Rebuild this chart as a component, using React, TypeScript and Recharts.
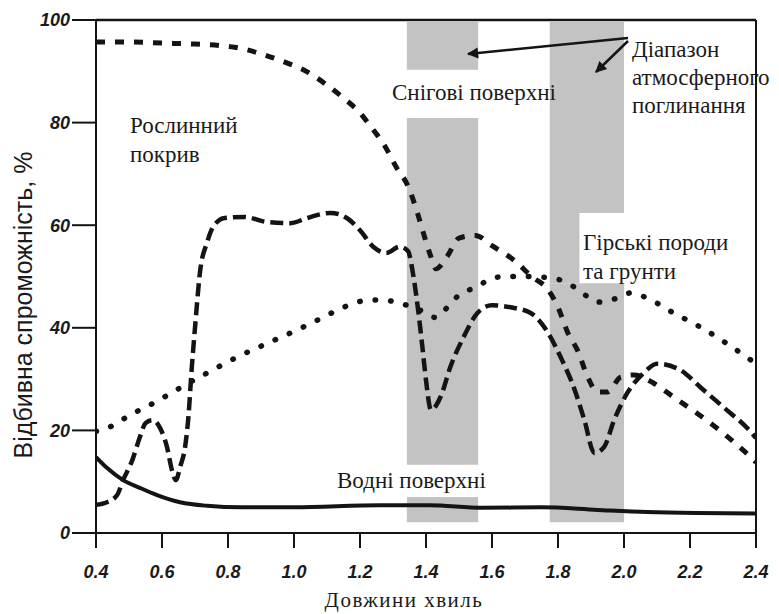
import { LineChart, Line, XAxis, YAxis, ReferenceArea, ReferenceLine } from 'recharts';

// осі
const xTicks = [0.4, 0.6, 0.8, 1.0, 1.2, 1.4, 1.6, 1.8, 2.0, 2.2, 2.4];
const xTickLabels = ['0.4', '0.6', '0.8', '1.0', '1.2', '1.4', '1.6', '1.8', '2.0', '2.2', '2.4'];
const yTicks = [0, 20, 40, 60, 80, 100];
const yTickLabels = ['0', '20', '40', '60', '80', '100'];

// сніг
const snowWl = [0.4, 0.5, 0.6, 0.7, 0.82, 0.91, 0.98, 1.04, 1.1, 1.15, 1.2, 1.24, 1.27, 1.31, 1.347, 1.374, 1.392, 1.414, 1.43, 1.465, 1.5, 1.55, 1.6, 1.67, 1.72, 1.77, 1.8, 1.83, 1.86, 1.89, 1.92, 1.95, 1.99, 2.03, 2.09, 2.15, 2.22, 2.3, 2.36, 2.4];
const snowVal = [95.7, 95.7, 95.5, 95.3, 94.7, 93.2, 91.6, 89.9, 87.3, 84.8, 81.9, 78.6, 76, 71.3, 67.4, 62.4, 58.5, 54, 51.5, 54, 57.5, 58, 56, 53, 50, 47.4, 44, 39, 35.5, 30.4, 27.5, 27.5, 30.4, 30.8, 29.2, 26.5, 23.4, 19.5, 16.2, 13.8];

// рослинність
const vegWl = [0.4, 0.433, 0.464, 0.482, 0.51, 0.533, 0.55, 0.57, 0.594, 0.615, 0.63, 0.642, 0.655, 0.67, 0.68, 0.69, 0.7, 0.716, 0.736, 0.755, 0.79, 0.85, 0.92, 0.99, 1.04, 1.11, 1.16, 1.2, 1.24, 1.28, 1.32, 1.345, 1.362, 1.377, 1.389, 1.4, 1.415, 1.444, 1.474, 1.514, 1.556, 1.6, 1.656, 1.717, 1.77, 1.81, 1.85, 1.88, 1.91, 1.94, 1.97, 2.01, 2.06, 2.1, 2.17, 2.23, 2.3, 2.38, 2.4];
const vegVal = [5.5, 6, 7.4, 10.3, 14.2, 18.7, 21.4, 22, 20.5, 16.8, 12.3, 10.3, 12.9, 16.8, 22.6, 32, 40, 51.3, 56.5, 59.7, 61.4, 61.6, 60.6, 60.4, 61.4, 62.4, 61.4, 59, 55.8, 54.6, 55.8, 55, 50, 43, 36.3, 29.8, 24, 26.5, 32.4, 38.2, 42.9, 44.4, 44, 42.9, 39, 34, 28, 22, 15.6, 16.8, 22, 27.3, 31.2, 33, 31.8, 28.5, 24.6, 20, 18.5];

// гірські породи та ґрунти
const soilWl = [0.4, 0.443, 0.488, 0.533, 0.58, 0.618, 0.66, 0.737, 0.828, 0.92, 1.01, 1.09, 1.15, 1.23, 1.27, 1.32, 1.38, 1.43, 1.47, 1.5, 1.556, 1.6, 1.65, 1.7, 1.78, 1.83, 1.87, 1.92, 1.98, 2.02, 2.07, 2.15, 2.23, 2.31, 2.4];
const soilVal = [19.8, 20.7, 22.4, 24, 25.5, 26.9, 28.5, 31.2, 34.3, 37, 39.6, 42.1, 44, 45.4, 45.4, 44.8, 43.5, 42, 44.4, 46.4, 48, 49.7, 50, 50, 49.7, 48.7, 47, 45, 45.8, 46.8, 45.8, 42.9, 40.2, 37, 33];

// водні поверхні
const waterWl = [0.4, 0.433, 0.482, 0.533, 0.585, 0.655, 0.737, 0.84, 1.0, 1.26, 1.41, 1.57, 1.75, 1.92, 2.07, 2.22, 2.4];
const waterVal = [14.8, 12.7, 10.3, 8.8, 7.4, 6, 5.3, 5, 5, 5.4, 5.4, 4.9, 5, 4.5, 4.1, 3.9, 3.8];

// діапазони атмосферного поглинання (частини смуг)
const absorptionBands = [
  { x1: 1.342, x2: 1.558, y1: 90.3, y2: 99.6 },
  { x1: 1.342, x2: 1.558, y1: 13.3, y2: 80.9 },
  { x1: 1.342, x2: 1.558, y1: 2.1, y2: 7.0 },
  { x1: 1.775, x2: 2.0, y1: 62.4, y2: 99.6 },
  { x1: 1.775, x2: 1.865, y1: 48.7, y2: 62.4 },
  { x1: 1.775, x2: 2.0, y1: 2.1, y2: 48.7 },
];

const zip = (xs: number[], ys: number[]) => xs.map((x, i) => ({ x, y: ys[i] }));

const snowData = zip(snowWl, snowVal);
const vegData = zip(vegWl, vegVal);
const soilData = zip(soilWl, soilVal);
const waterData = zip(waterWl, waterVal);

const INK = '#141414';
const tickStyle = {
  fontSize: 18,
  fontWeight: 700,
  fontStyle: 'italic',
  fontFamily: '"Liberation Sans", Arial, sans-serif',
  fill: '#1a1a1a',
};
const serifText = { fontFamily: 'Liberation Serif', fontSize: 23, fill: '#1a1a1a' };

export default function App() {
  return (
    <div style={{ position: 'absolute', left: 0, top: 0, width: 779, height: 614, background: '#fff' }}>
      <LineChart width={779} height={614} margin={{ top: 20, right: 23, left: 0, bottom: 0 }}>
        {absorptionBands.map((b, i) => (
          <ReferenceArea
            key={i}
            x1={b.x1}
            x2={b.x2}
            y1={b.y1}
            y2={b.y2}
            fill="#c3c3c3"
            fillOpacity={1}
            stroke="none"
          />
        ))}
        <XAxis
          dataKey="x"
          type="number"
          domain={[0.4, 2.4]}
          ticks={xTicks}
          tickFormatter={(v: number) => xTickLabels[xTicks.indexOf(v)] ?? String(v)}
          height={81}
          tickSize={15}
          tickMargin={17}
          axisLine={{ stroke: INK, strokeWidth: 2 }}
          tickLine={{ stroke: INK, strokeWidth: 2 }}
          tick={tickStyle}
          allowDataOverflow
        />
        <YAxis
          type="number"
          domain={[0, 100]}
          ticks={yTicks}
          tickFormatter={(v: number) => yTickLabels[yTicks.indexOf(v)] ?? String(v)}
          width={96}
          tickSize={24}
          tickMargin={2}
          axisLine={{ stroke: INK, strokeWidth: 2 }}
          tickLine={{ stroke: INK, strokeWidth: 2 }}
          tick={tickStyle}
          allowDataOverflow
        />
        <ReferenceLine y={100} stroke={INK} strokeWidth={2.5} />
        <ReferenceLine x={2.4} stroke={INK} strokeWidth={2} />
        <Line
          data={waterData}
          dataKey="y"
          type="monotone"
          stroke={INK}
          strokeWidth={4}
          dot={false}
          activeDot={false}
          isAnimationActive={false}
        />
        <Line
          data={soilData}
          dataKey="y"
          type="monotone"
          stroke={INK}
          strokeWidth={5.5}
          strokeDasharray="0.5 15"
          strokeLinecap="round"
          dot={false}
          activeDot={false}
          isAnimationActive={false}
        />
        <Line
          data={vegData}
          dataKey="y"
          type="monotone"
          stroke={INK}
          strokeWidth={4.5}
          strokeDasharray="13 6"
          dot={false}
          activeDot={false}
          isAnimationActive={false}
        />
        <Line
          data={snowData}
          dataKey="y"
          type="monotone"
          stroke={INK}
          strokeWidth={5}
          strokeDasharray="9 10"
          dot={false}
          activeDot={false}
          isAnimationActive={false}
        />
      </LineChart>

      {/* підписи та стрілки */}
      <svg
        width={779}
        height={614}
        style={{ position: 'absolute', left: 0, top: 0, pointerEvents: 'none' }}
      >
        <defs>
          <marker id="arrowHead" viewBox="0 0 10 10" refX="9" refY="5" markerWidth="9" markerHeight="4.5" orient="auto" markerUnits="strokeWidth">
            <path d="M0,0 L10,5 L0,10 z" fill={INK} />
          </marker>
        </defs>
        <line x1={628} y1={38} x2={468} y2={54} stroke={INK} strokeWidth={2.5} markerEnd="url(#arrowHead)" />
        <line x1={628} y1={41} x2={596} y2={72} stroke={INK} strokeWidth={2.5} markerEnd="url(#arrowHead)" />

        <text x={130} y={133} style={serifText}>Рослинний</text>
        <text x={130} y={162} style={serifText}>покрив</text>
        <text x={392} y={100} style={serifText}>Снігові поверхні</text>
        <text x={632} y={57} style={serifText}>Діапазон</text>
        <text x={632} y={85} style={serifText}>атмосферного</text>
        <text x={632} y={113} style={serifText}>поглинання</text>
        <text x={583} y={250} style={serifText}>Гірські породи</text>
        <text x={583} y={279} style={serifText}>та грунти</text>
        <text x={337} y={488} style={serifText}>Водні поверхні</text>

        <text
          x={404}
          y={607}
          textAnchor="middle"
          style={{ ...serifText, fontSize: 21, letterSpacing: 1.5 }}
        >
          Довжини хвиль
        </text>
        <text
          transform="translate(32, 305) rotate(-90)"
          textAnchor="middle"
          style={{ fontFamily: '"Liberation Sans", Arial, sans-serif', fontSize: 25, fill: '#1a1a1a' }}
        >
          Відбивна спроможність, %
        </text>
      </svg>
    </div>
  );
}
